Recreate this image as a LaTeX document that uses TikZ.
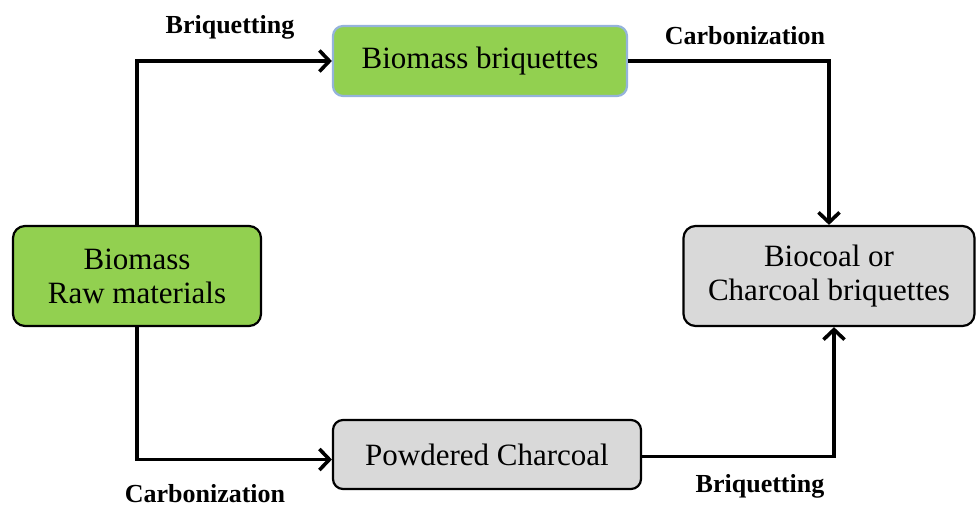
\documentclass[tikz,border=0pt]{standalone}
\usepackage{fontspec}
\setmainfont{Liberation Serif}
\usetikzlibrary{arrows.meta}
\definecolor{leafgreen}{HTML}{92D050}
\definecolor{ashgray}{HTML}{D9D9D9}
\definecolor{paleblue}{HTML}{95B3DB}
\begin{document}
\begin{tikzpicture}[x=1pt,y=-1pt,
  stage/.style={rounded corners=12pt,line width=2.2pt,draw=black,align=center,
    inner sep=0pt,font=\fontsize{31}{35}\selectfont},
  greenstage/.style={stage,fill=leafgreen},
  graystage/.style={stage,fill=ashgray},
  flow/.style={line width=3.6pt,-{Straight Barb[length=10pt,width=21pt,line width=3.6pt]}},
  steplabel/.style={font=\fontsize{26}{30}\selectfont\bfseries}]
\useasboundingbox (0,0) rectangle (976,507);
% process stages
\node[greenstage,minimum width=248pt,minimum height=100pt] (raw) at (137,276) {Biomass\\[-1pt]Raw materials};
\node[greenstage,draw=paleblue,rounded corners=10pt,minimum width=294pt,minimum height=70pt] (bb) at (480,61) {Biomass briquettes};
\node[graystage,minimum width=291pt,minimum height=100pt] (bio) at (829,276) {Biocoal or\\[-1pt]Charcoal briquettes};
\node[graystage,rounded corners=10pt,minimum width=308pt,minimum height=69pt] (pc) at (487,454.5) {Powdered Charcoal};
% upper route: briquetting, then carbonization
\draw[flow] (raw.north) |- (bb.west);
\draw[flow] (bb.east) -| (bio.north);
% lower route: carbonization, then briquetting
\draw[flow] (raw.south) |- ([yshift=-5pt]pc.west);
\draw[flow] ([yshift=-2pt]pc.east) -| ([xshift=5pt]bio.south);
% step names
\node[steplabel] (l1) at (230,27) {Briquetting};
\node[steplabel] (l2) at (745,36) {Carbonization};
\node[steplabel] (l3) at (205,494) {Carbonization};
\node[steplabel] (l4) at (760,486) {Briquetting};
\end{tikzpicture}
\end{document}
